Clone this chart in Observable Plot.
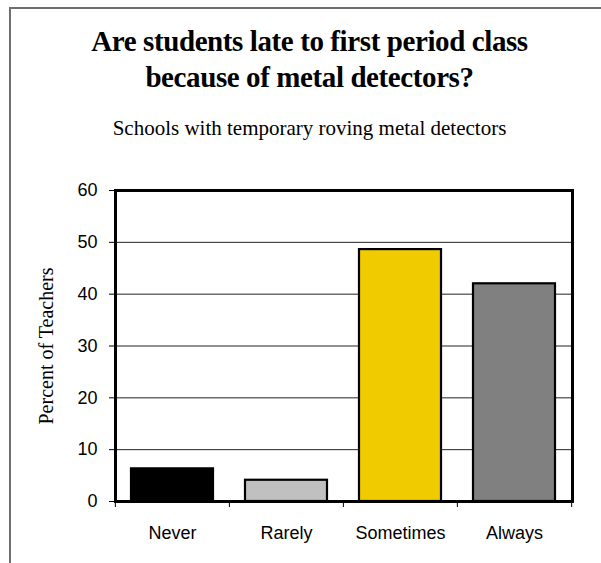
<!DOCTYPE html>
<html>
<head>
<meta charset="utf-8">
<script src="https://cdn.jsdelivr.net/npm/d3@7"></script>
<script src="https://cdn.jsdelivr.net/npm/@observablehq/plot@0.6"></script>
<style>
  html, body { margin: 0; padding: 0; background: #fff; }
  #wrap { position: relative; width: 601px; height: 563px; overflow: hidden; background: #fff; }
  #border { position: absolute; left: 9px; top: 7px; right: -10px; bottom: -10px;
            border-top: 2px solid #6f6f6f; border-left: 2px solid #6f6f6f; }
  #title { position: absolute; left: 9px; width: 601px; top: 23px; text-align: center;
           font-family: "Liberation Serif", "Times New Roman", serif; font-weight: bold;
           font-size: 29px; line-height: 36px; letter-spacing: -0.4px; color: #000; }
  #subtitle { position: absolute; left: 9px; width: 601px; top: 116px; text-align: center;
              font-family: "Liberation Serif", "Times New Roman", serif;
              font-size: 21px; line-height: 24px; color: #000; }
  #chart { position: absolute; left: 0; top: 170px; }
</style>
</head>
<body>
<div id="wrap">
  <div id="border"></div>
  <div id="title">Are students late to first period class<br>because of metal detectors?</div>
  <div id="subtitle">Schools with temporary roving metal detectors</div>
  <div id="chart"></div>
</div>
<script>
const categories = ["Never", "Rarely", "Sometimes", "Always"];
const values = [6.3, 4.1, 48.6, 42.0];
const yTicks = [0, 10, 20, 30, 40, 50, 60];
const yLabel = "Percent of Teachers";
const barColors = ["#000000", "#c0c0c0", "#f0cb00", "#808080"];

const data = categories.map((c, i) => ({category: c, value: values[i]}));

const width = 601, height = 393;
const marginLeft = 115, marginRight = 29, marginTop = 20, marginBottom = 62;
const step = (width - marginLeft - marginRight) / categories.length;

const chart = Plot.plot({
  width, height, marginLeft, marginRight, marginTop, marginBottom,
  style: {fontFamily: "'Liberation Sans', Arial, sans-serif", fontSize: "18px", color: "#000", background: "transparent"},
  x: {type: "band", domain: categories, paddingInner: 0.28, paddingOuter: 0.14, align: 0.5, label: null},
  y: {domain: [yTicks[0], yTicks[yTicks.length - 1]], nice: false, label: null},
  color: {domain: categories, range: barColors},
  marks: [
    Plot.ruleY(yTicks.slice(1, -1), {stroke: "#222", strokeWidth: 1}),
    Plot.barY(data, {x: "category", y: "value", fill: "category", stroke: "#000", strokeWidth: 2.2}),
    Plot.frame({stroke: "#000", strokeWidth: 3}),
    Plot.axisY({ticks: yTicks, tickSize: 6, tickPadding: 12, fontSize: 18, stroke: "#000", label: null}),
    Plot.axisX({tickSize: 0, tickPadding: 25, fontSize: 18, label: null}),
    Plot.axisX({tickSize: 6, tickFormat: () => "", dx: -step / 2, stroke: "#000", label: null}),
    Plot.axisX({ticks: [categories[categories.length - 1]], tickSize: 6, tickFormat: () => "", dx: step / 2, stroke: "#000", label: null}),
    Plot.text([yLabel], {text: d => d, frameAnchor: "left", textAnchor: "middle", rotate: -90, dx: -69,
      fontFamily: "'Liberation Serif', 'Times New Roman', serif", fontSize: 20, fill: "#000"})
  ]
});
document.getElementById("chart").appendChild(chart);
</script>
</body>
</html>
